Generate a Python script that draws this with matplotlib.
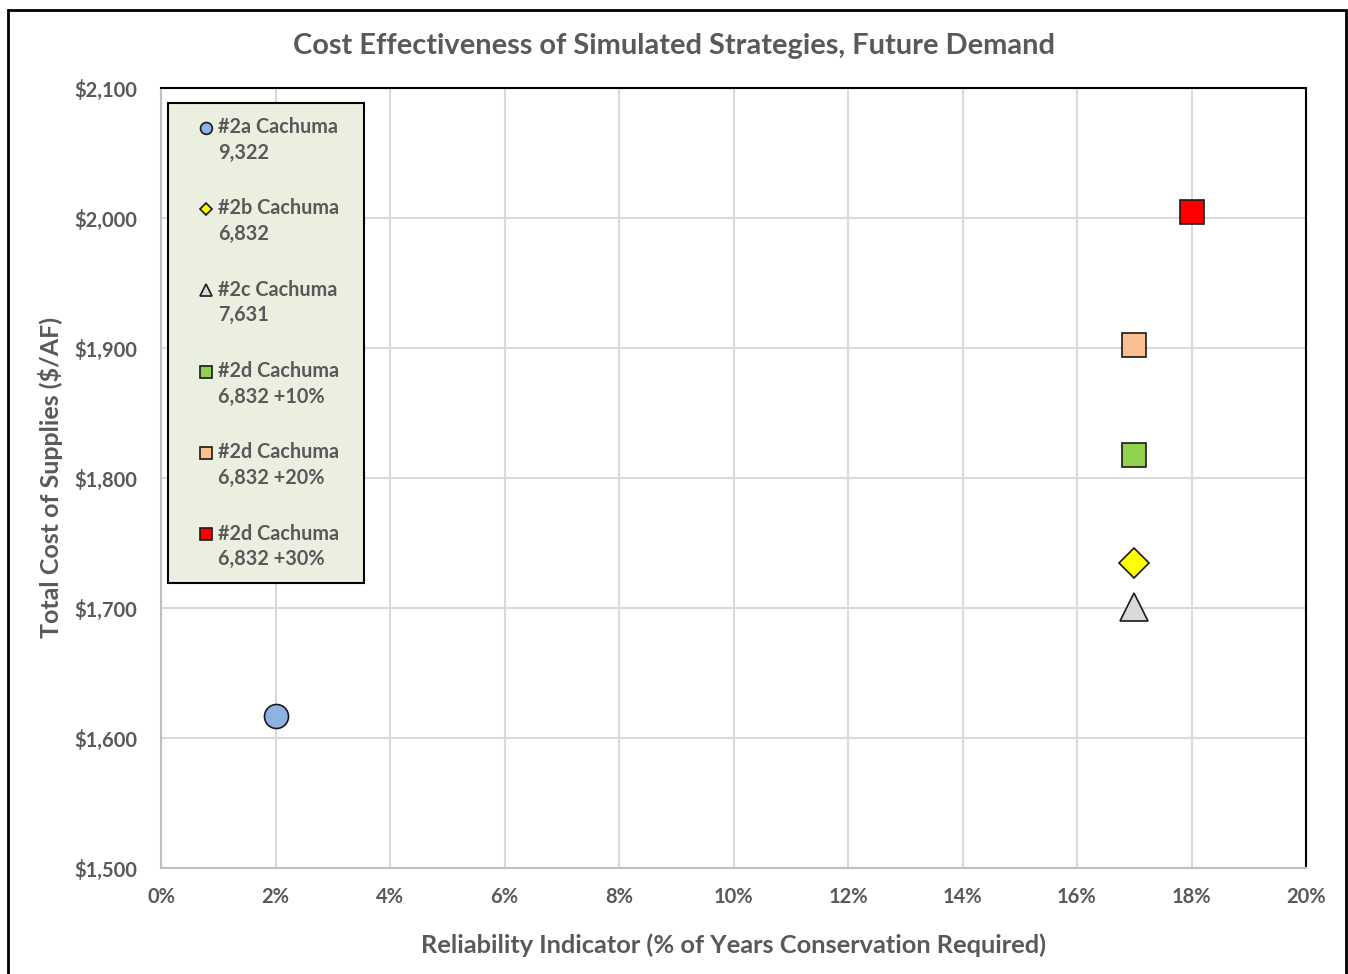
import matplotlib
matplotlib.use('Agg')
import matplotlib.pyplot as plt
from matplotlib.lines import Line2D
from matplotlib.markers import MarkerStyle
from matplotlib.patches import Rectangle
from matplotlib.ticker import FuncFormatter, MultipleLocator
from matplotlib.transforms import Affine2D

plt.rcParams['font.family'] = ['Lato', 'DejaVu Sans']

# Strategy results: reliability (% of years needing conservation) vs total cost ($/AF)
labels = ['#2a Cachuma\n9,322', '#2b Cachuma\n6,832', '#2c Cachuma\n7,631',
          '#2d Cachuma\n6,832 +10%', '#2d Cachuma\n6,832 +20%', '#2d Cachuma\n6,832 +30%']
reliability = [2, 17, 17, 17, 17, 18]
cost = [1617, 1735, 1701, 1818, 1902, 2005]
colors = ['#8DB3E2', '#FFFF00', '#D9D9D9', '#92D050', '#FAC090', '#FF0000']
markers = ['o', 'D', '^', 's', 's', 's']
sizes = [17.3, 14.8, 20, 17.3, 17.3, 17.3]
legend_sizes = [8.5, 6.2, 8.5, 8, 8, 8]

text_grey = '#595959'

fig = plt.figure(figsize=(13.48, 9.74), dpi=100)
ax = fig.add_axes([161 / 1348, 1 - 868 / 974, 1145 / 1348, 780 / 974])

# outer chart border
fig.patches.append(Rectangle((8 / 1348, -0.01), 1338 / 1348, 1 - 10 / 974 + 0.01,
                             transform=fig.transFigure, fill=False,
                             edgecolor='black', linewidth=2, zorder=0))

for x, y, c, m, s in zip(reliability, cost, colors, markers, sizes):
    ax.plot(x, y, marker=m, markersize=s, markerfacecolor=c,
            markeredgecolor='#1a1a1a', markeredgewidth=1.2, linestyle='none',
            zorder=3, clip_on=False)

ax.set_xlim(0, 20)
ax.set_ylim(1500, 2100)
ax.xaxis.set_major_locator(MultipleLocator(2))
ax.yaxis.set_major_locator(MultipleLocator(100))
ax.xaxis.set_major_formatter(FuncFormatter(lambda v, p: f'{v:.0f}%'))
ax.yaxis.set_major_formatter(FuncFormatter(lambda v, p: f'\\${v:,.0f}'))
ax.grid(True, color='#D9D9D9', linewidth=1.5, zorder=0)
ax.set_axisbelow(True)

for side in ['top', 'right']:
    ax.spines[side].set_color('black')
    ax.spines[side].set_linewidth(1.5)
for side in ['left', 'bottom']:
    ax.spines[side].set_color('#BFBFBF')
    ax.spines[side].set_linewidth(1.5)

ax.tick_params(length=0, labelsize=14.5, labelcolor=text_grey)
ax.tick_params(axis='x', pad=13.5)
ax.tick_params(axis='y', pad=17)
for t in ax.get_xticklabels() + ax.get_yticklabels():
    t.set_fontweight('bold')

fig.text(0.5, 1 - 46 / 974, 'Cost Effectiveness of Simulated Strategies, Future Demand',
         ha='center', va='center', fontsize=20.9, fontweight='bold', color=text_grey)
ax.set_xlabel('Reliability Indicator (% of Years Conservation Required)',
              fontsize=18.3, fontweight='bold', color=text_grey, labelpad=19.5)
ax.set_ylabel('Total Cost of Supplies (\\$/AF)',
              fontsize=18, fontweight='bold', color=text_grey, labelpad=8)


def legend_marker(m, ms, dx_pt=8.6, dy_pt=9.4):
    # nudge the key so it sits next to the first line of its label
    return MarkerStyle(m, transform=Affine2D().translate(dx_pt / ms, dy_pt / ms))


handles = [Line2D([], [], marker=legend_marker(m, ms), markersize=ms, markerfacecolor=c,
                  markeredgecolor='#1a1a1a', markeredgewidth=1.2, linestyle='none')
           for c, m, ms in zip(colors, markers, legend_sizes)]
leg = ax.legend(handles, labels, loc='upper left',
                bbox_to_anchor=(0.0061, 0.5, 196 / 1145, 0.4808), mode='expand',
                borderaxespad=0, frameon=True, fancybox=False,
                facecolor='#EBEFE0', edgecolor='black', framealpha=1,
                prop={'weight': 'bold', 'size': 14.3}, labelcolor=text_grey,
                handlelength=1.2, handletextpad=0.6, labelspacing=1.8,
                borderpad=0.7)
leg.get_frame().set_linewidth(1.5)
for t in leg.get_texts():
    t.set_linespacing(1.35)

fig.savefig('out.png', dpi=100)
